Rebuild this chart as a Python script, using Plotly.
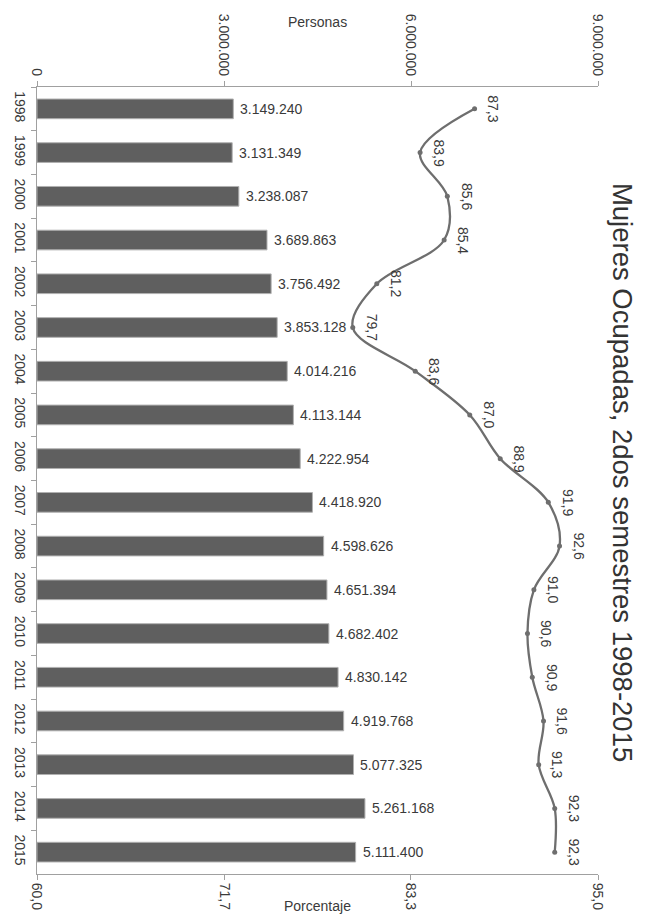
import plotly.graph_objects as go

years = ["1998", "1999", "2000", "2001", "2002", "2003", "2004", "2005", "2006",
         "2007", "2008", "2009", "2010", "2011", "2012", "2013", "2014", "2015"]
personas = [3149240, 3131349, 3238087, 3689863, 3756492, 3853128, 4014216, 4113144,
            4222954, 4418920, 4598626, 4651394, 4682402, 4830142, 4919768, 5077325,
            5261168, 5111400]
porcentaje = [87.3, 83.9, 85.6, 85.4, 81.2, 79.7, 83.6, 87.0, 88.9, 91.9, 92.6, 91.0,
              90.6, 90.9, 91.6, 91.3, 92.3, 92.3]

pers_ticks = [0, 3000000, 6000000, 9000000]
pct_ticks = [60.0, 71.7, 83.3, 95.0]
pct_ticktext = ["60,0", "71,7", "83,3", "95,0"]

FONT = "Liberation Sans Narrow, Liberation Sans, Arial"
TXT = "#3a3a3a"

def fmt_pct(v):
    return f"{v:.1f}".replace(".", ",")

def fmt_int(v):
    return f"{v:,d}".replace(",", ".")

fig = go.Figure()
fig.add_trace(go.Bar(
    y=years, x=personas, orientation="h",
    marker=dict(color="#5f5f5f", line=dict(color="#b0b0b0", width=1)),
    xaxis="x", yaxis="y",
))
fig.add_trace(go.Scatter(
    y=years, x=porcentaje, mode="lines+markers",
    line=dict(color="#6e6e6e", width=2.3, shape="spline", smoothing=1.0),
    marker=dict(color="#6e6e6e", size=5),
    xaxis="x2", yaxis="y",
))

for i, v in enumerate(personas):
    fig.add_annotation(x=v, y=i, xref="x", yref="y", text=fmt_int(v),
                       xanchor="left", showarrow=False, xshift=5,
                       font=dict(size=14, color=TXT, family=FONT))

for i, v in enumerate(porcentaje):
    fig.add_annotation(x=v, y=i, xref="x2", yref="y", text=fmt_pct(v),
                       textangle=90, showarrow=False, xshift=19,
                       font=dict(size=14, color=TXT, family=FONT))

fig.add_annotation(x=0.5, y=1.0, xref="paper", yref="paper", yanchor="middle", yshift=65,
                   text="Personas", showarrow=False,
                   font=dict(size=14, color=TXT, family=FONT))
fig.add_annotation(x=0.5, y=0.0, xref="paper", yref="paper", yanchor="middle", yshift=-32,
                   text="Porcentaje", showarrow=False,
                   font=dict(size=14, color=TXT, family=FONT))
fig.add_annotation(x=1.045, y=0.51, xref="paper", yref="paper", xshift=17,
                   text="Mujeres Ocupadas, 2dos semestres 1998-2015",
                   textangle=90, showarrow=False,
                   font=dict(size=27.5, color="#333333", family="Liberation Sans, Arial"))

axis_common = dict(showgrid=False, zeroline=False, showline=True, linecolor="#a0a0a0",
                   linewidth=1, ticks="outside", ticklen=5, tickcolor="#a0a0a0",
                   tickangle=90, tickfont=dict(size=14, color=TXT, family=FONT))

fig.update_layout(
    width=649, height=922,
    margin=dict(l=36, r=51, t=87, b=42),
    paper_bgcolor="white", plot_bgcolor="white",
    showlegend=False, bargap=0.55,
    separators=",.",
    xaxis=dict(side="top", range=[0, 9000000], tickvals=pers_ticks,
               tickformat=",d", **axis_common),
    xaxis2=dict(side="bottom", overlaying="x", range=[60, 95], tickvals=pct_ticks,
                ticktext=pct_ticktext, **axis_common),
    yaxis=dict(type="category", range=[len(years) - 0.5, -0.5], tickson="boundaries",
               ticklabelstandoff=4, **axis_common),
)

fig.write_html("out.html")
